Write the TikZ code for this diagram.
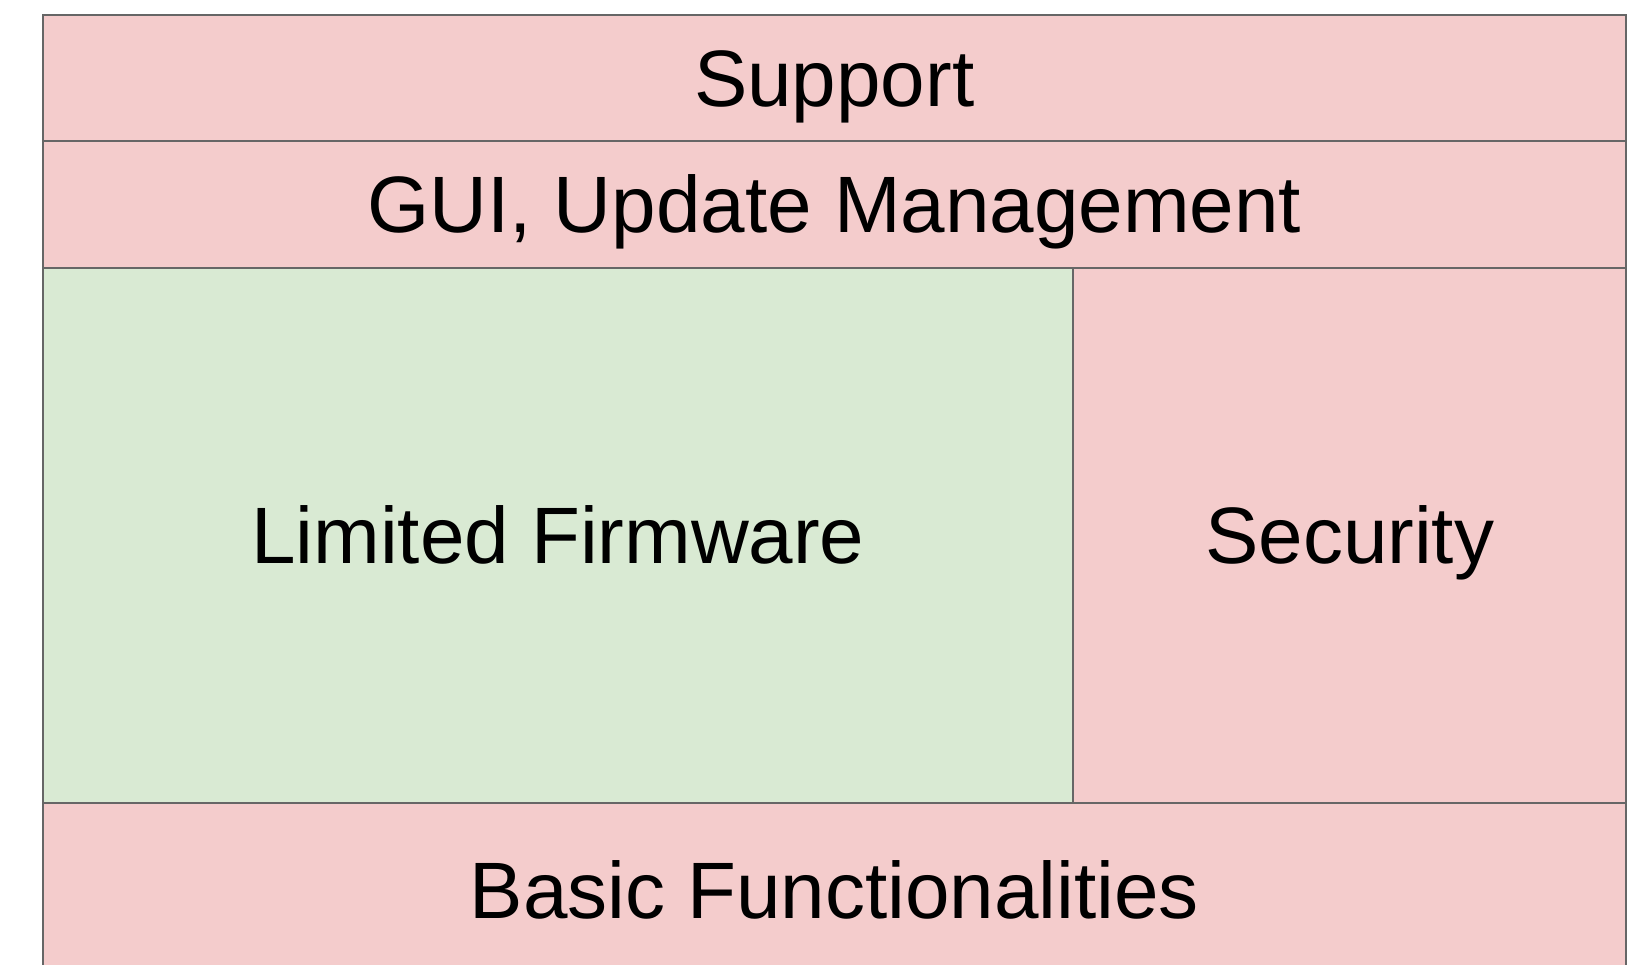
\documentclass[tikz,border=0pt]{standalone}
\usepackage{fontspec}
\setmainfont{Liberation Sans}
\definecolor{layerred}{HTML}{F4CCCC}
\definecolor{layergreen}{HTML}{D9EAD3}
\definecolor{layerline}{HTML}{666666}
\begin{document}
\begin{tikzpicture}[x=1pt,y=-1pt,
  layer/.style={draw=layerline, line width=2pt, rectangle, inner sep=0pt, outer sep=0pt,
    font=\fontsize{80}{96}\selectfont, text height=57pt, text depth=0pt, text=black},
  redlayer/.style={layer, fill=layerred},
  greenlayer/.style={layer, fill=layergreen}]
  \useasboundingbox (0,0) rectangle (1650,965);
  % full-width bands
  \node[redlayer, minimum width=1583.5pt, minimum height=126.6pt] (support) at (834.25,78) {Support};
  \node[redlayer, minimum width=1583.5pt, minimum height=126.4pt] (gui) at (834.25,204.5) {GUI, Update Management};
  % middle band split in two
  \node[greenlayer, minimum width=1030.8pt, minimum height=535.3pt] (firmware) at (557.9,535.35) {Limited Firmware};
  \node[redlayer, minimum width=552.7pt, minimum height=535.3pt] (security) at (1349.65,535.35) {Security};
  % bottom band, running past the lower edge
  \node[redlayer, minimum width=1583.5pt, minimum height=173pt] (basic) at (834.25,889.5) {Basic Functionalities};
\end{tikzpicture}
\end{document}
